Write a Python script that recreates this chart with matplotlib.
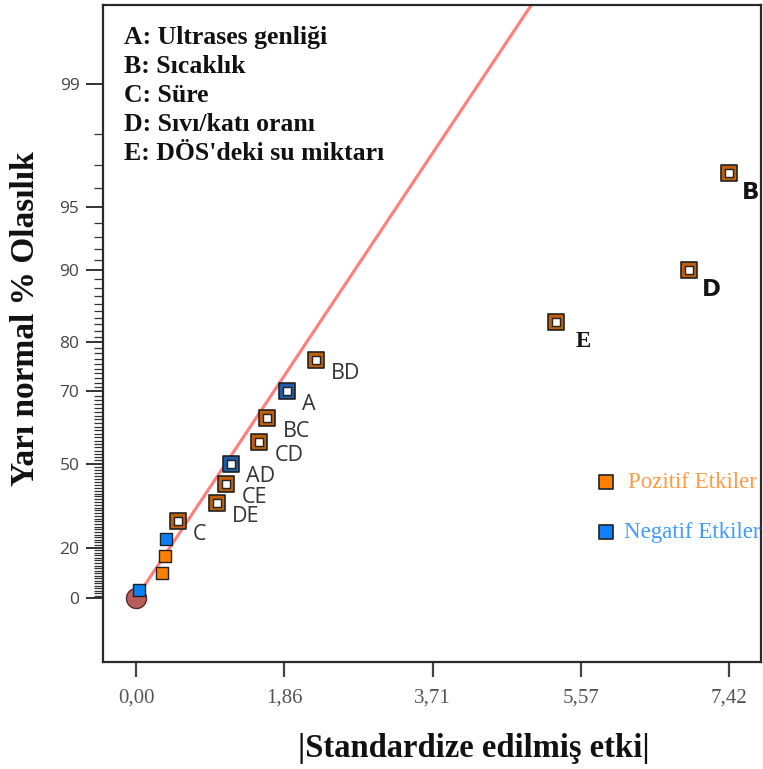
import math
import numpy as np
import matplotlib
matplotlib.use("Agg")
import matplotlib.pyplot as plt
from matplotlib.ticker import FixedLocator, FixedFormatter

# Effect magnitudes (|standardized effect|), ranked smallest to largest
effect_labels = ["", "", "", "", "C", "DE", "CE", "AD", "CD", "BC", "A", "BD", "E", "D", "B"]
effect_values = [0.04, 0.32, 0.36, 0.37, 0.52, 1.01, 1.13, 1.19, 1.54, 1.64, 1.89, 2.25, 5.26, 6.92, 7.42]
effect_positive = [False, True, True, False, True, True, True, False, True, True, False, True, True, True, True]
halfnormal_pct = [3.33, 10.0, 16.67, 23.33, 30.0, 36.67, 43.33, 50.0, 56.67, 63.33, 70.0, 76.67, 83.33, 90.0, 96.67]

# Reference line through the origin (half-normal quantile per unit effect)
line_slope = 0.601

y_major = [0, 20, 50, 70, 80, 90, 95, 99]
y_minor = [v for v in range(1, 99) if v not in y_major]
x_ticks = [0.0, 1.855, 3.71, 5.565, 7.42]
x_ticklabels = ["0,00", "1,86", "3,71", "5,57", "7,42"]

factor_legend = ["A: Ultrases genliği", "B: Sıcaklık", "C: Süre",
                 "D: Sıvı/katı oranı", "E: DÖS'deki su miktarı"]

_erf = np.vectorize(math.erf, otypes=[float])


def _erfinv(y):
    y = np.clip(np.asarray(y, dtype=float), -0.9999999, 0.9999999)
    a = 0.147
    ln = np.log(1.0 - y * y)
    t = 2.0 / (np.pi * a) + ln / 2.0
    x = np.sign(y) * np.sqrt(np.sqrt(t * t - ln / a) - t)
    for _ in range(3):
        x = x - (_erf(x) - y) / (2.0 / np.sqrt(np.pi) * np.exp(-x * x))
    return x


def pct_to_z(p):
    return np.sqrt(2.0) * _erfinv(np.asarray(p, dtype=float) / 100.0)


def z_to_pct(z):
    return 100.0 * _erf(np.asarray(z, dtype=float) / np.sqrt(2.0))


fig = plt.figure(figsize=(7.63, 7.69), dpi=100)
ax = fig.add_axes([0.135, 0.139, 0.8625, 0.8545])

ax.set_yscale("function", functions=(pct_to_z, z_to_pct))
ax.set_xlim(-0.413, 7.82)
ax.set_ylim(float(z_to_pct(-0.32)), float(z_to_pct(2.972)))

# Reference line
xl = np.linspace(0, 6.0, 300)
ax.plot(xl, z_to_pct(line_slope * xl), color="#ff7d7d", lw=2.2, zorder=2, solid_capstyle="butt")

# Origin marker
ax.scatter([0], [0], s=210, marker="o", facecolor="#b85c5c", edgecolor="#5a2b2b",
           linewidth=1.0, zorder=3)

pos_dark, neg_dark = "#c0600c", "#1f5ca6"
pos_light, neg_light = "#ff8000", "#0a80f5"

for lab, v, pos, p in zip(effect_labels, effect_values, effect_positive, halfnormal_pct):
    if lab:
        ax.scatter([v], [p], s=125, marker="s", facecolor=pos_dark if pos else neg_dark,
                   edgecolor="#222222", linewidth=1.2, zorder=4)
        ax.scatter([v], [p], s=34, marker="s", facecolor="white",
                   edgecolor="#222222", linewidth=1.0, zorder=5)
        if len(lab) == 1 and lab in "BDE":
            fam = "Liberation Serif" if lab == "E" else "DejaVu Sans"
            dx = 14 if lab == "E" else 9
            ax.annotate(lab, (v, p), xytext=(dx, -14), textcoords="offset points",
                        fontsize=16.5, fontweight="bold", family=fam, color="#151515",
                        ha="left", va="center", zorder=6)
        else:
            ax.annotate(lab, (v, p), xytext=(11, -9.5), textcoords="offset points",
                        fontsize=15.5, family="Open Sans", color="#333333",
                        ha="left", va="center", zorder=6)
    else:
        ax.scatter([v], [p], s=78, marker="s", facecolor=pos_light if pos else neg_light,
                   edgecolor="#222222", linewidth=1.0, zorder=4)

# Axis styling
for side in ("top", "right", "left", "bottom"):
    ax.spines[side].set_linewidth(1.6)
    ax.spines[side].set_color("#2a2a2a")

ax.yaxis.set_major_locator(FixedLocator(y_major))
ax.yaxis.set_major_formatter(FixedFormatter([str(v) for v in y_major]))
ax.yaxis.set_minor_locator(FixedLocator(y_minor))
ax.yaxis.set_minor_formatter(FixedFormatter([""] * len(y_minor)))
ax.tick_params(axis="y", which="major", length=12, width=1.4, color="#333333",
               pad=5, labelsize=12.5, labelcolor="#444444")
ax.tick_params(axis="y", which="minor", length=6.5, width=0.9, color="#333333")
for t in ax.get_yticklabels():
    t.set_family("Open Sans")

ax.set_xticks(x_ticks)
ax.set_xticklabels(x_ticklabels, family="Liberation Serif", fontsize=15, color="#555555")
ax.tick_params(axis="x", which="major", length=11, width=1.6, color="#444444", pad=8)
ax.tick_params(axis="x", which="minor", length=0)

# Factor key
for i, txt in enumerate(factor_legend):
    ax.text(0.032, 0.951 - i * 0.0442, txt, transform=ax.transAxes, fontsize=18.5,
            fontweight="bold", family="Liberation Serif", color="#111111",
            ha="left", va="center")

# Sign key
ax.scatter([0.764], [0.274], s=115, marker="s", transform=ax.transAxes, facecolor="#ff8000",
           edgecolor="#222222", linewidth=1.2, zorder=6, clip_on=False)
ax.scatter([0.764], [0.198], s=115, marker="s", transform=ax.transAxes, facecolor="#1080ff",
           edgecolor="#222222", linewidth=1.2, zorder=6, clip_on=False)
ax.text(0.797, 0.274, "Pozitif Etkiler", transform=ax.transAxes, fontsize=16.5,
        family="Liberation Serif", color="#ff9a45", ha="left", va="center")
ax.text(0.791, 0.198, "Negatif Etkiler", transform=ax.transAxes, fontsize=16.5,
        family="Liberation Serif", color="#3e9cff", ha="left", va="center", clip_on=False)

fig.text(0.033, 0.586, "Yarı normal % Olasılık", rotation=90, fontsize=24,
         fontweight="bold", family="Liberation Serif", color="#111111",
         ha="center", va="center")
fig.text(0.621, 0.027, "|Standardize edilmiş etki|", fontsize=23.5,
         fontweight="bold", family="Liberation Serif", color="#111111",
         ha="center", va="center")

fig.savefig("out.png", dpi=100)
